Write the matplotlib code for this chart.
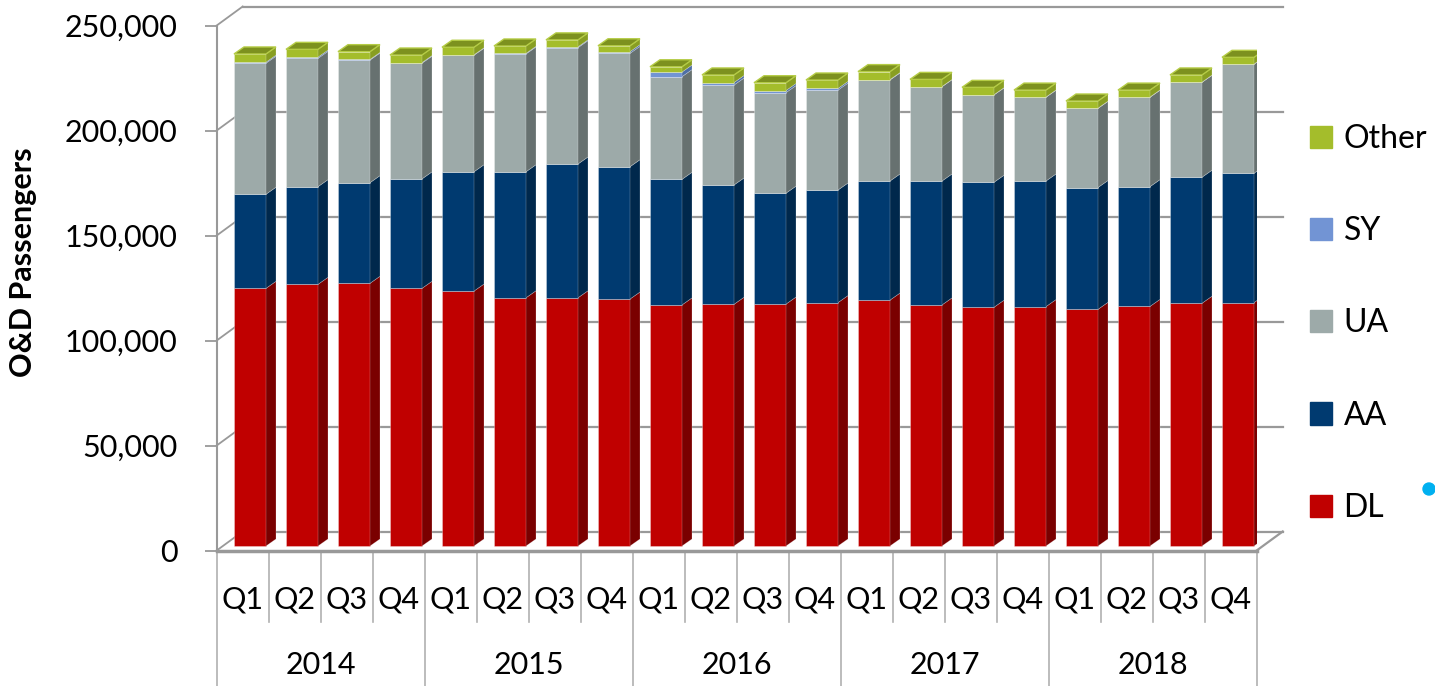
import numpy as np
import matplotlib
matplotlib.use('Agg')
import matplotlib.pyplot as plt
from matplotlib.patches import Polygon, Patch, Ellipse
import matplotlib.transforms as mtransforms

plt.rcParams['font.family'] = ['Lato', 'DejaVu Sans']

# data (passengers)
quarters = ['Q1', 'Q2', 'Q3', 'Q4'] * 5
years = ['2014', '2015', '2016', '2017', '2018']
dl = np.array([122.7, 124.6, 125.1, 122.7, 121.4, 118.2, 118.2, 117.6, 114.8, 115.1,
               115.2, 115.9, 117.1, 114.8, 113.7, 114.0, 112.7, 114.1, 115.6, 115.9]) * 1000
aa = np.array([44.8, 46.5, 47.9, 52.1, 56.8, 60.0, 63.7, 63.0, 59.8, 56.8,
               52.8, 53.6, 56.7, 59.0, 59.5, 59.8, 58.0, 57.0, 60.0, 61.6]) * 1000
ua = np.array([62.4, 61.1, 58.4, 55.1, 55.5, 56.1, 55.4, 54.0, 48.9, 47.6,
               47.9, 47.6, 48.1, 44.9, 41.6, 39.9, 37.7, 42.6, 45.2, 51.9]) * 1000
sy = np.array([0.5, 0.6, 0.3, 0.3, 0.2, 0.3, 0.4, 0.8, 2.2, 1.2,
               1.0, 0.8, 0.2, 0.1, 0.1, 0.1, 0.1, 0.1, 0.1, 0.1]) * 1000
other = np.array([3.9, 3.7, 3.7, 3.6, 3.6, 3.5, 3.3, 2.8, 2.5, 3.6,
                  3.7, 4.0, 3.8, 3.4, 3.5, 3.3, 3.4, 3.3, 3.4, 3.2]) * 1000
yticks = [0, 50000, 100000, 150000, 200000, 250000]

# colours: front face, side face
colors = {
    'DL': ('#C00000', '#7A0000'),
    'AA': ('#003A70', '#00284C'),
    'UA': ('#9DAAA9', '#677170'),
    'SY': ('#7294D4', '#4E6EA6'),
    'Other': ('#A4BD2B', '#889E22'),
}
top_color = '#7D911F'
wall_color = '#999999'

W, H = 1435, 686
fig = plt.figure(figsize=(W / 100, H / 100), dpi=100)
ax = fig.add_axes([216.7 / W, (H - 550.5) / H, 1040 / W, 525 / H])
n = len(quarters)
ax.set_xlim(0, n)
ax.set_ylim(0, yticks[-1])

# pixel -> data helpers for the fake 3d
px_x = 1040 / n
px_y = 525 / yticks[-1]
wall_dx, wall_dy = 26 / px_x, 19 / px_y
bar_dx, bar_dy = 10 / px_x, 7 / px_y
x0 = np.arange(n) + 17.3 / px_x
bw = 32 / px_x
base = 4.5 / px_y

# walls
for t in yticks:
    ax.plot([0, wall_dx], [t, t + wall_dy], color=wall_color, lw=1.3, clip_on=False, zorder=1)
    ax.plot([wall_dx, n + wall_dx], [t + wall_dy, t + wall_dy], color=wall_color, lw=1.6,
            clip_on=False, zorder=1)
ax.plot([n, n + wall_dx], [0, wall_dy], color=wall_color, lw=1.6, clip_on=False, zorder=1)

# stacked bars
bottom = np.full(n, base)
for name, vals in [('DL', dl), ('AA', aa), ('UA', ua), ('SY', sy), ('Other', other)]:
    front, side = colors[name]
    ax.bar(x0, vals, width=bw, bottom=bottom, align='edge', color=front,
           edgecolor=(1, 1, 1, 0.35), lw=0.6, zorder=3)
    for i in range(n):
        b, t = bottom[i], bottom[i] + vals[i]
        xr = x0[i] + bw
        ax.add_patch(Polygon([(xr, b), (xr + bar_dx, b + bar_dy), (xr + bar_dx, t + bar_dy), (xr, t)],
                             closed=True, facecolor=side, edgecolor=(1, 1, 1, 0.3), lw=0.5, zorder=3))
    bottom = bottom + vals

for i in range(n):
    t = bottom[i]
    ax.add_patch(Polygon([(x0[i], t), (x0[i] + bw, t), (x0[i] + bw + bar_dx, t + bar_dy),
                          (x0[i] + bar_dx, t + bar_dy)],
                         closed=True, facecolor=top_color, edgecolor='#B5CC45', lw=1.0, zorder=3))

# axes styling
for s in ['top', 'right']:
    ax.spines[s].set_visible(False)
ax.spines['left'].set_color(wall_color)
ax.spines['left'].set_linewidth(1.5)
ax.spines['bottom'].set_color(wall_color)
ax.spines['bottom'].set_linewidth(2.5)
ax.set_yticks(yticks)
ax.set_yticklabels([f'{t:,}' for t in yticks])
ax.tick_params(axis='y', length=8.4, width=1.3, color=wall_color, labelsize=22, pad=20)
ax.set_xticks([])
ax.set_ylabel('O&D Passengers', fontsize=22, fontweight='bold')
ax.yaxis.set_label_coords(-0.173, 0.55)

# two-level category axis
trans = mtransforms.blended_transform_factory(ax.transData, ax.transAxes)
for i in range(n + 1):
    low = -0.258 if i % 4 == 0 else -0.136
    ax.plot([i, i], [0, low], color='#B0B0B0', lw=1.2, transform=trans, clip_on=False)
for i, q in enumerate(quarters):
    ax.text(i + 0.5, -0.094, q, transform=trans, ha='center', va='center', fontsize=22)
for k, y in enumerate(years):
    ax.text(4 * k + 2, -0.218, y, transform=trans, ha='center', va='center', fontsize=22)

# legend
handles = [Patch(color=colors[k][0]) for k in ['Other', 'SY', 'UA', 'AA', 'DL']]
fig.legend(handles, ['Other', 'SY', 'UA', 'AA', 'DL'], loc='center left',
           bbox_to_anchor=(1310 / W, 1 - 323.5 / H), frameon=False, fontsize=23,
           handlelength=0.7, handleheight=0.7, handletextpad=0.35, labelspacing=1.95,
           borderpad=0, borderaxespad=0)

# stray dot in the original picture
fig.patches.append(Ellipse((1429 / W, 1 - 489 / H), 12 / W, 12 / H, transform=fig.transFigure,
                           color='#00B0F0', zorder=5))

fig.savefig('out.png', dpi=100)
